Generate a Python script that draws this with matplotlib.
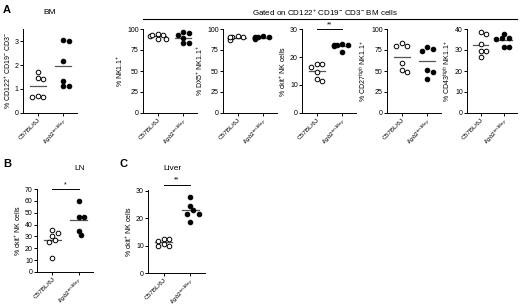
import matplotlib
matplotlib.use("Agg")
import matplotlib.pyplot as plt
import numpy as np

plt.rcParams['font.family'] = ['Liberation Sans', 'DejaVu Sans']
plt.rcParams['mathtext.fontset'] = 'custom'
plt.rcParams['mathtext.rm'] = 'Liberation Sans'
plt.rcParams['mathtext.it'] = 'Liberation Sans:italic'

groups = ["C57BL/6J", r"$\it{Itgb2}^{tm1Bay}$"]

A_wt = [1.72, 1.45, 1.42, 0.72, 0.65, 0.67]
A_ko = [3.0, 3.05, 2.15, 1.33, 1.13, 1.13]
nk_wt = [94, 93, 92, 93, 88, 88]
nk_ko = [95, 93, 96, 89, 83, 83]
dx5_wt = [91, 92, 90, 89, 87, 90]
dx5_ko = [91, 92, 90, 89, 88, 90, 89]
ckit_wt = [16.5, 17.5, 17.5, 14.5, 11.5, 12.0]
ckit_ko = [24.3, 24.3, 24.3, 24.0, 24.5, 21.9]
cd27_wt = [83, 80, 80, 60, 51, 48.5]
cd27_ko = [78, 74, 76.5, 51, 49, 41]
cd43_wt = [38.7, 37.6, 32.7, 29.7, 29.5, 26.5]
cd43_ko = [37.5, 35.8, 35.5, 35.3, 31.6, 31.6]
ln_wt = [35.5, 32.5, 30.5, 27, 25, 11.5]
ln_ko = [60, 46.5, 46.5, 35, 31.5]
liver_wt = [12.3, 11.8, 12.3, 10.5, 10.0, 10.0]
liver_ko = [27.6, 24.5, 21.7, 22.9, 21.7, 18.7]

W, H = 520, 307
fig = plt.figure(figsize=(W / 100, H / 100), dpi=100)


def make_ax(l, r, t, b):
    return fig.add_axes([l / W, 1 - b / H, (r - l) / W, (b - t) / H])


FS = 5.0
XFS = 4.6
XLIM = (-0.58, 1.55)


def swarm(vals, ppu_y, ppu_x=25.5, diam=5.0):
    vals = np.asarray(vals, float)
    order = np.argsort(-vals)
    placed = []
    offs = np.zeros(len(vals))
    for i in order:
        y = vals[i] * ppu_y
        for k in [0, 1, -1, 2, -2, 3, -3]:
            x = k * diam * 0.55
            ok = all((x - px) ** 2 + (y - py) ** 2 >= (diam * 0.95) ** 2 for px, py in placed)
            if ok:
                break
        placed.append((x, y))
        offs[i] = x / ppu_x
    return offs


def panel(box, wt, ko, ylim, yticks, ylabel, sig=None):
    ax = make_ax(*box)
    hpx = box[3] - box[2]
    ppu_y = hpx / (ylim[1] - ylim[0])
    for gi, (vals, face) in enumerate([(wt, 'white'), (ko, 'black')]):
        offs = swarm(vals, ppu_y)
        ax.scatter(gi + offs, vals, s=11, facecolor=face, edgecolor='black',
                   linewidth=0.7, zorder=3, clip_on=False)
        m = np.mean(vals)
        ax.plot([gi - 0.32, gi + 0.32], [m, m], color='#555555', lw=0.9, zorder=2)
    ax.set_xlim(*XLIM)
    ax.set_ylim(*ylim)
    ax.set_yticks(yticks)
    ax.set_xticks([0, 1])
    ax.set_xticklabels(groups, rotation=45, ha='right', rotation_mode='anchor', fontsize=XFS)
    ax.tick_params(axis='y', labelsize=FS, length=2, width=0.7, pad=1)
    ax.tick_params(axis='x', length=2, width=0.7, pad=1.0)
    for s in ['top', 'right']:
        ax.spines[s].set_visible(False)
    for s in ['left', 'bottom']:
        ax.spines[s].set_linewidth(0.7)
    ax.set_ylabel(ylabel, fontsize=FS, labelpad=1.5)
    if sig is not None:
        yv, txt = sig
        ax.plot([0, 1], [yv, yv], color='black', lw=0.7, clip_on=False)
        ax.text(0.5, yv + (ylim[1] - ylim[0]) * 0.012, txt, ha='center', va='bottom',
                fontsize=FS, clip_on=False)
    return ax


panel((23, 77, 29, 113), A_wt, A_ko, (0, 3.5), [0, 1, 2, 3],
      "% CD122$^{+}$ CD19$^{-}$ CD3$^{-}$")
panel((143, 197, 29, 113), nk_wt, nk_ko, (0, 100), [0, 25, 50, 75, 100], "% NK1.1$^{+}$")
panel((223, 277, 29, 113), dx5_wt, dx5_ko, (0, 100), [0, 25, 50, 75, 100],
      "% DX5$^{+}$ NK1.1$^{+}$")
panel((302, 356, 29, 113), ckit_wt, ckit_ko, (0, 30), [0, 10, 20, 30],
      "% ckit$^{+}$ NK cells", sig=(30, "**"))
panel((387, 441, 29, 113), cd27_wt, cd27_ko, (0, 100), [0, 25, 50, 75, 100],
      "% CD27$^{high}$ NK1.1$^{+}$")
panel((467, 517, 29, 113), cd43_wt, cd43_ko, (0, 40), [0, 10, 20, 30, 40],
      "% CD43$^{high}$ NK1.1$^{+}$")
panel((37, 93, 189, 272), ln_wt, ln_ko, (0, 70), [0, 10, 20, 30, 40, 50, 60, 70],
      "% ckit$^{+}$ NK cells", sig=(70, "*"))
panel((148, 205, 189.5, 273), liver_wt, liver_ko, (0, 30.5), [0, 10, 20, 30],
      "% ckit$^{+}$ NK cells", sig=(32.3, "**"))


def ftext(x, y, s, **kw):
    fig.text(x / W, 1 - y / H, s, **kw)


ftext(3, 10, "A", fontsize=8, fontweight='bold', va='center')
ftext(50, 12, "BM", fontsize=6, ha='center', va='center')
ftext(3, 164, "B", fontsize=8, fontweight='bold', va='center')
ftext(80, 168, "LN", fontsize=6, ha='center', va='center')
ftext(120, 164, "C", fontsize=8, fontweight='bold', va='center')
ftext(173, 168, "Liver", fontsize=6, ha='center', va='center')

ftext(325, 13, "Gated on CD122$^{+}$ CD19$^{-}$ CD3$^{-}$ BM cells", fontsize=5.8,
      ha='center', va='center')
fig.add_artist(plt.Line2D([143 / W, 517 / W], [1 - 18.5 / H, 1 - 18.5 / H],
                          color='black', lw=0.8))

fig.savefig("out.png", dpi=100)
